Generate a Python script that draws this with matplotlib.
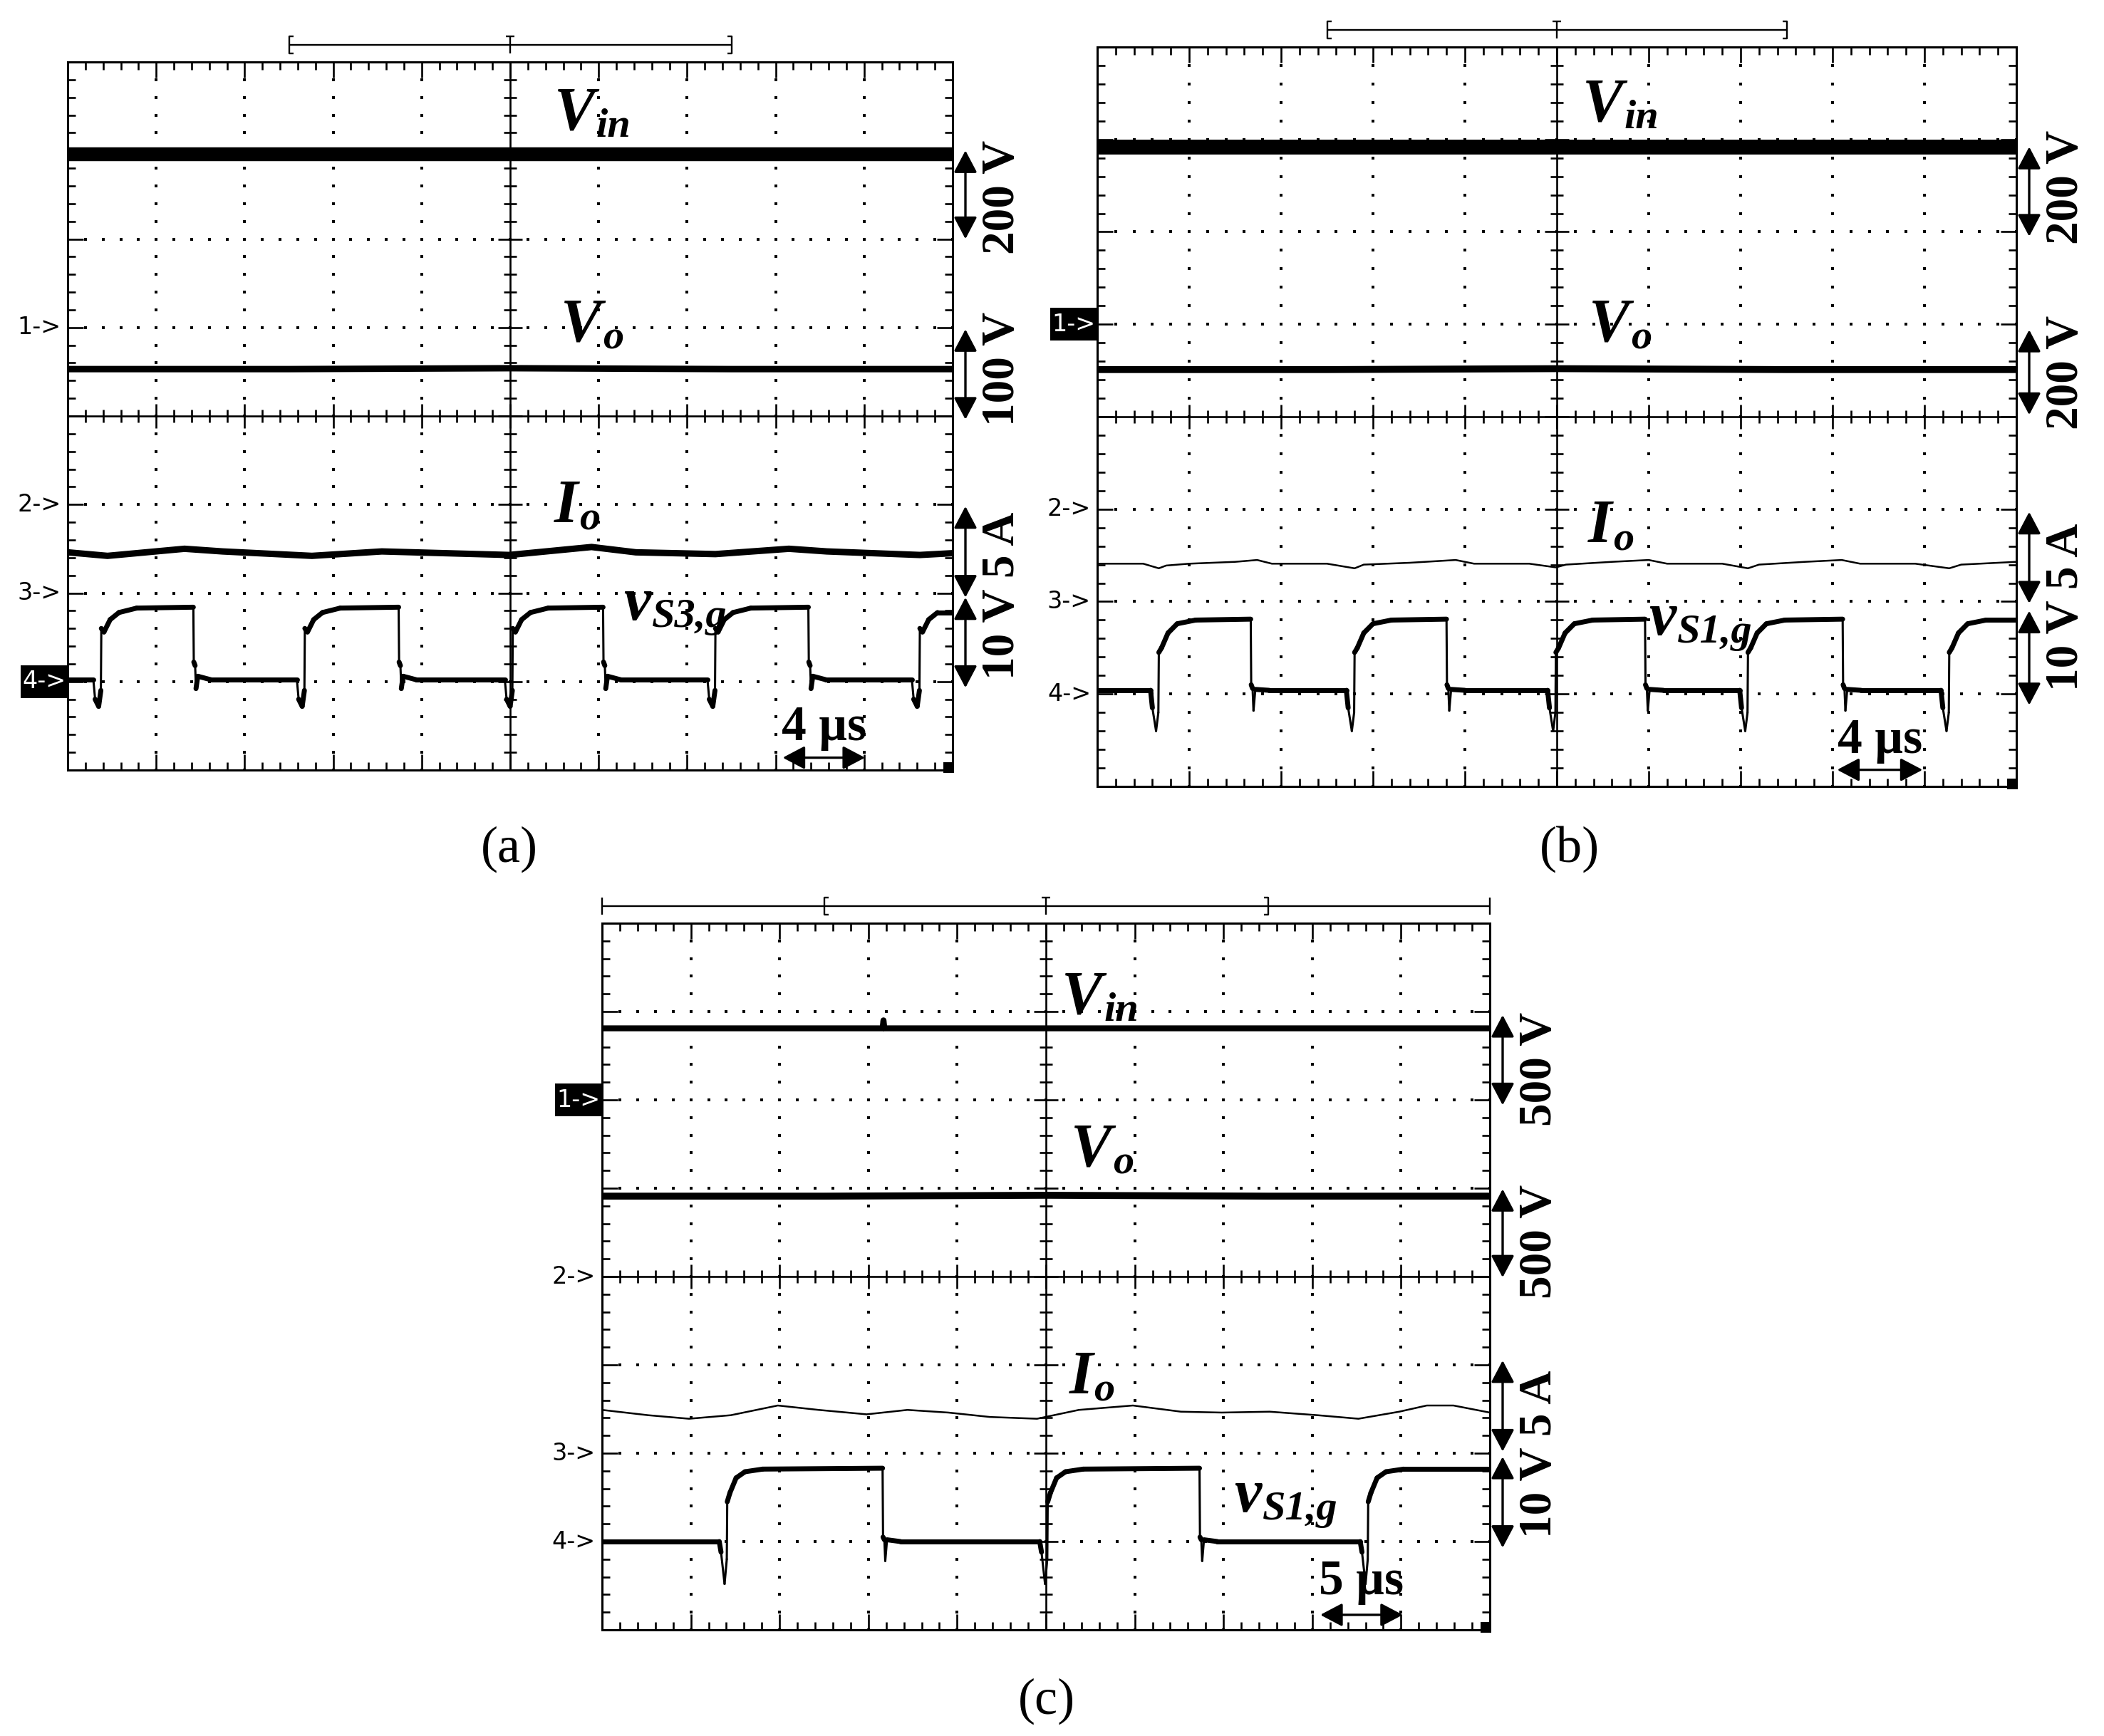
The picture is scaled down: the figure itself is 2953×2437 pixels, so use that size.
import numpy as np
import matplotlib.pyplot as plt
from matplotlib.patches import Rectangle
from matplotlib.collections import LineCollection

W, H = 2953, 2437

###############################################################################
# Data, in screen divisions (x 0..10, y 0..8 from the bottom)
###############################################################################
# gate edge shape (offsets from each edge, in divisions)
edge_rise_dx = [-0.09, -0.07, -0.03, -0.005, 0.0, 0.03, 0.10, 0.20, 0.40]
edge_fall_dx = [0.0, 0.005, 0.02, 0.03, 0.05, 0.20]

# ---- panel (a)
a_vin_x = [0.0, 2.5, 5.0, 7.5, 10.0]
a_vin_y = [6.96, 6.96, 6.96, 6.96, 6.96]
a_vo_x = [0.0, 2.5, 5.0, 7.5, 10.0]
a_vo_y = [4.53, 4.53, 4.54, 4.53, 4.53]
a_io_x = [0.0, 0.45, 1.32, 1.75, 2.76, 3.55, 4.99, 5.92, 6.42, 7.32, 8.15, 8.58, 9.63, 10.0]
a_io_y = [2.46, 2.42, 2.50, 2.47, 2.42, 2.47, 2.43, 2.52, 2.46, 2.44, 2.50, 2.47, 2.43, 2.45]
a_gate_rise = [0.38, 2.68, 5.03, 7.32, 9.63]
a_gate_fall = [1.42, 3.74, 6.05, 8.37]
a_gate_low = 1.02
a_rise_y = [1.02, 0.80, 0.72, 0.90, 1.60, 1.56, 1.70, 1.78, 1.83]
a_fall_y = [1.84, 1.22, 1.18, 0.92, 1.06, 1.02]

# ---- panel (b)
b_vin_x = [0.0, 2.5, 5.0, 7.5, 10.0]
b_vin_y = [6.92, 6.92, 6.92, 6.92, 6.92]
b_vo_x = [0.0, 2.5, 5.0, 7.5, 10.0]
b_vo_y = [4.51, 4.51, 4.52, 4.51, 4.51]
b_io_x = [0, 0.5, 0.67, 0.75, 1.0, 1.5, 1.74, 1.9, 2.5, 2.8, 2.9, 3.4, 3.9, 4.1, 4.7, 4.99,
          5.1, 5.6, 6.0, 6.2, 6.8, 7.08, 7.2, 7.7, 8.1, 8.3, 8.9, 9.27, 9.4, 9.8, 10]
b_io_y = [2.41, 2.41, 2.36, 2.39, 2.41, 2.43, 2.45, 2.41, 2.41, 2.36, 2.40, 2.42, 2.45, 2.41, 2.41, 2.37,
          2.40, 2.43, 2.45, 2.41, 2.41, 2.36, 2.40, 2.43, 2.45, 2.41, 2.41, 2.36, 2.40, 2.42, 2.43]
b_gate_rise = [0.67, 2.80, 4.99, 7.08, 9.27]
b_gate_fall = [1.67, 3.80, 5.96, 8.11]
b_gate_low = 1.04
b_rise_y = [1.04, 0.85, 0.60, 0.80, 1.45, 1.50, 1.66, 1.76, 1.80]
b_fall_y = [1.81, 1.10, 1.06, 0.82, 1.05, 1.04]

# ---- panel (c)
c_vin_x = [0.0, 3.16, 3.17, 3.18, 10.0]
c_vin_y = [6.81, 6.81, 6.90, 6.81, 6.81]
c_vo_x = [0.0, 2.5, 5.0, 7.5, 10.0]
c_vo_y = [4.91, 4.91, 4.92, 4.91, 4.91]
c_io_x = [0, 0.52, 0.98, 1.45, 1.98, 2.44, 2.98, 3.44, 3.90, 4.37, 4.90,
          5.37, 5.98, 6.52, 6.98, 7.52, 8.06, 8.52, 8.98, 9.29, 9.59, 10.0]
c_io_y = [2.49, 2.43, 2.39, 2.43, 2.54, 2.49, 2.44, 2.49, 2.46, 2.41, 2.39,
          2.49, 2.54, 2.47, 2.46, 2.47, 2.43, 2.39, 2.47, 2.54, 2.54, 2.46]
c_gate_rise = [1.41, 5.02, 8.63]
c_gate_fall = [3.16, 6.73]
c_gate_low = 1.00
c_rise_y = [1.00, 0.88, 0.52, 0.80, 1.45, 1.55, 1.72, 1.79, 1.82]
c_fall_y = [1.83, 1.05, 1.02, 0.78, 1.02, 1.00]

# trace labels: main letter + subscript
label_main = ['V', 'V', 'I', 'v']
a_label_sub = ['in', 'o', 'o', 'S3,g']
b_label_sub = ['in', 'o', 'o', 'S1,g']
c_label_sub = ['in', 'o', 'o', 'S1,g']
a_scale_text = ['200 V', '100 V', '10 V 5 A']
b_scale_text = ['200 V', '200 V', '10 V 5 A']
c_scale_text = ['500 V', '500 V', '10 V 5 A']
a_time_text = '4 µs'
b_time_text = '4 µs'
c_time_text = '5 µs'

###############################################################################
# Helpers
###############################################################################
fig = plt.figure(figsize=(W / 100, H / 100), dpi=100)


def add_screen(l, t, r, b):
    ax = fig.add_axes([l / W, 1 - b / H, (r - l) / W, (b - t) / H])
    ax.set_xlim(0, 10)
    ax.set_ylim(0, 8)
    ax.axis('off')
    return ax, 1.0 / ((r - l) / 10.0), 1.0 / ((b - t) / 8.0)


def draw_screen(ax, tx, ty, full_bar):
    mx = np.round(np.arange(0, 10.001, 0.2), 3)
    my = np.round(np.arange(0, 8.001, 0.2), 3)
    # dotted graticule
    for gx in [1, 2, 3, 4, 6, 7, 8, 9]:
        ax.scatter(np.full(len(my), gx), my, s=6, marker='s', c='k', linewidths=0)
    for gy in [1, 2, 3, 5, 6, 7]:
        ax.scatter(mx, np.full(len(mx), gy), s=6, marker='s', c='k', linewidths=0)
    segs = [[(0, 4), (10, 4)], [(5, 0), (5, 8)]]
    for x in mx:
        major = abs(x - round(x)) < 1e-6
        h = (17 if major else 9) * ty
        segs.append([(x, 4 - h), (x, 4 + h)])
        L = (22 if major else 11) * ty
        segs.append([(x, 0), (x, L)])
        segs.append([(x, 8), (x, 8 - L)])
    for y in my:
        major = abs(y - round(y)) < 1e-6
        w = (17 if major else 9) * tx
        segs.append([(5 - w, y), (5 + w, y)])
        L = (22 if major else 11) * tx
        segs.append([(0, y), (L, y)])
        segs.append([(10, y), (10 - L, y)])
    ax.add_collection(LineCollection(segs, colors='k', linewidths=1.9, clip_on=False))
    ax.add_patch(Rectangle((0, 0), 10, 8, fill=False, ec='k', lw=2.2, clip_on=False))
    ax.add_patch(Rectangle((10 - 13 * tx, -4 * ty), 15 * tx, 15 * ty, fc='k', ec='none', clip_on=False))

    # trigger / memory bar above the screen
    yb = 8 + 24 * ty
    h = 12 * ty
    s = 6 * tx
    bar = []
    if full_bar:
        bar.append([(0, yb), (10, yb)])
        bar.append([(0, yb - h), (0, yb + h)])
        bar.append([(10, yb - h), (10, yb + h)])
    else:
        bar.append([(2.5, yb), (7.5, yb)])
    for xb, d in [(2.5, 1), (7.5, -1)]:
        bar.append([(xb + d * s, yb + h), (xb, yb + h), (xb, yb - h), (xb + d * s, yb - h)])
    bar.append([(5, yb - h), (5, yb + h)])
    bar.append([(5 - s, yb + h), (5 + s, yb + h)])
    ax.add_collection(LineCollection(bar, colors='k', linewidths=1.7, clip_on=False))


def channel_marks(ax, tx, ty, levels, names, highlight):
    for lvl, name in zip(levels, names):
        if name == highlight:
            ax.add_patch(Rectangle((-66 * tx, lvl - 23 * ty), 66 * tx, 46 * ty,
                                   fc='k', ec='none', clip_on=False))
            ax.text(-33 * tx, lvl, name, ha='center', va='center', fontsize=24, color='white',
                    family='DejaVu Sans')
        else:
            ax.text(-9 * tx, lvl, name, ha='right', va='center', fontsize=24, color='black',
                    family='DejaVu Sans')


def build_gate(rise, fall, low, rise_y, fall_y):
    edges = sorted([(t, 0) for t in rise] + [(t, 1) for t in fall])
    xs, ys = [0.0], [low]
    for t, kind in edges:
        dx, vy = (edge_rise_dx, rise_y) if kind == 0 else (edge_fall_dx, fall_y)
        xs += [t + d for d in dx]
        ys += list(vy)
    xs, ys = np.array(xs), np.array(ys)
    keep = xs <= 10
    xs, ys = list(xs[keep]), list(ys[keep])
    xs.append(10.0)
    ys.append(ys[-1])
    return np.array(xs), np.array(ys)


def draw_gate(ax, gx, gy):
    pts = np.column_stack([gx, gy])
    segs = np.stack([pts[:-1], pts[1:]], axis=1)
    steep = np.abs(np.diff(gy)) > 0.2
    lws = np.where(steep, 2.2, 5.0)
    ax.add_collection(LineCollection(segs, colors='k', linewidths=lws, capstyle='round'))


def scale_marks(ax, tx, arrows, texts, text_y):
    xa = 10 + 18 * tx
    for y0, y1 in arrows:
        ax.annotate('', xy=(xa, y1), xytext=(xa, y0), annotation_clip=False,
                    arrowprops=dict(arrowstyle='<|-|>,head_length=0.95,head_width=0.5',
                                    color='k', lw=2.4, shrinkA=0, shrinkB=0, mutation_scale=20))
    for t, y in zip(texts, text_y):
        ax.text(10 + 70 * tx, y, t, rotation=90, ha='center', va='center', fontsize=47,
                family='Liberation Serif', weight='bold')


def time_mark(ax, text, x0, x1, ya, yt):
    ax.annotate('', xy=(x1, ya), xytext=(x0, ya), annotation_clip=False,
                arrowprops=dict(arrowstyle='<|-|>,head_length=0.95,head_width=0.5',
                                color='k', lw=2.4, shrinkA=0, shrinkB=0, mutation_scale=20))
    ax.text((x0 + x1) / 2, yt, text, ha='center', va='baseline', fontsize=50,
            family='Liberation Serif', weight='bold')


def trace_labels(ax, subs, xs, ys):
    for m, s, x, y in zip(label_main, subs, xs, ys):
        t = ax.text(x, y, m, ha='left', va='baseline', fontsize=62,
                    family='Liberation Serif', style='italic', weight='bold')
        ax.annotate(s, xy=(1, 0), xycoords=t, xytext=(1, 6), textcoords='offset points',
                    ha='left', va='baseline', fontsize=42,
                    family='Liberation Serif', style='italic', weight='bold')

###############################################################################
# (a)
###############################################################################
ax_a, tx, ty = add_screen(95, 87, 1337, 1081)
draw_screen(ax_a, tx, ty, False)
ax_a.plot(a_vin_x, a_vin_y, 'k-', lw=14)
ax_a.plot(a_vo_x, a_vo_y, 'k-', lw=6.5)
ax_a.plot(a_io_x, a_io_y, 'k-', lw=6.5)
gx, gy = build_gate(a_gate_rise, a_gate_fall, a_gate_low, a_rise_y, a_fall_y)
draw_gate(ax_a, gx, gy)
channel_marks(ax_a, tx, ty, [5, 3, 2, 1], ['1->', '2->', '3->', '4->'], '4->')
scale_marks(ax_a, tx, [(7.0, 6.0), (4.98, 3.96), (2.98, 1.95), (1.95, 0.93)],
            a_scale_text, [6.47, 4.53, 1.97])
time_mark(ax_a, a_time_text, 8.08, 9.01, 0.14, 0.34)
trace_labels(ax_a, a_label_sub, [5.5, 5.57, 5.5, 6.28], [7.24, 4.85, 2.8, 1.7])

###############################################################################
# (b)
###############################################################################
ax_b, tx, ty = add_screen(1540, 66, 2830, 1104)
draw_screen(ax_b, tx, ty, False)
ax_b.plot(b_vin_x, b_vin_y, 'k-', lw=15)
ax_b.plot(b_vo_x, b_vo_y, 'k-', lw=7)
ax_b.plot(b_io_x, b_io_y, 'k-', lw=1.8)
gx, gy = build_gate(b_gate_rise, b_gate_fall, b_gate_low, b_rise_y, b_fall_y)
draw_gate(ax_b, gx, gy)
channel_marks(ax_b, tx, ty, [5, 3, 2, 1], ['1->', '2->', '3->', '4->'], '1->')
scale_marks(ax_b, tx, [(6.92, 5.95), (4.94, 4.02), (2.97, 1.98), (1.9, 0.88)],
            b_scale_text, [6.48, 4.48, 1.94])
time_mark(ax_b, b_time_text, 8.05, 8.98, 0.18, 0.36)
trace_labels(ax_b, b_label_sub, [5.28, 5.35, 5.34, 6.0], [7.2, 4.82, 2.64, 1.64])

###############################################################################
# (c)
###############################################################################
ax_c, tx, ty = add_screen(845, 1296, 2091, 2288)
draw_screen(ax_c, tx, ty, True)
ax_c.plot(c_vin_x, c_vin_y, 'k-', lw=6)
ax_c.plot(c_vo_x, c_vo_y, 'k-', lw=7)
ax_c.plot(c_io_x, c_io_y, 'k-', lw=1.8)
gx, gy = build_gate(c_gate_rise, c_gate_fall, c_gate_low, c_rise_y, c_fall_y)
draw_gate(ax_c, gx, gy)
channel_marks(ax_c, tx, ty, [6, 4, 2, 1], ['1->', '2->', '3->', '4->'], '1->')
scale_marks(ax_c, tx, [(6.96, 5.94), (4.99, 3.99), (3.05, 2.02), (1.96, 0.93)],
            c_scale_text, [6.35, 4.4, 1.99])
time_mark(ax_c, c_time_text, 8.09, 9.02, 0.17, 0.40)
trace_labels(ax_c, c_label_sub, [5.18, 5.28, 5.26, 7.12], [6.98, 5.25, 2.68, 1.34])

###############################################################################
# Sub-figure captions
###############################################################################
for txt, x, y in [('(a)', 715, 1192), ('(b)', 2203, 1192), ('(c)', 1469, 2388)]:
    fig.text(x / W, 1 - y / H, txt, ha='center', va='center', fontsize=52,
             family='Liberation Serif')

fig.savefig('out.png', dpi=100)
